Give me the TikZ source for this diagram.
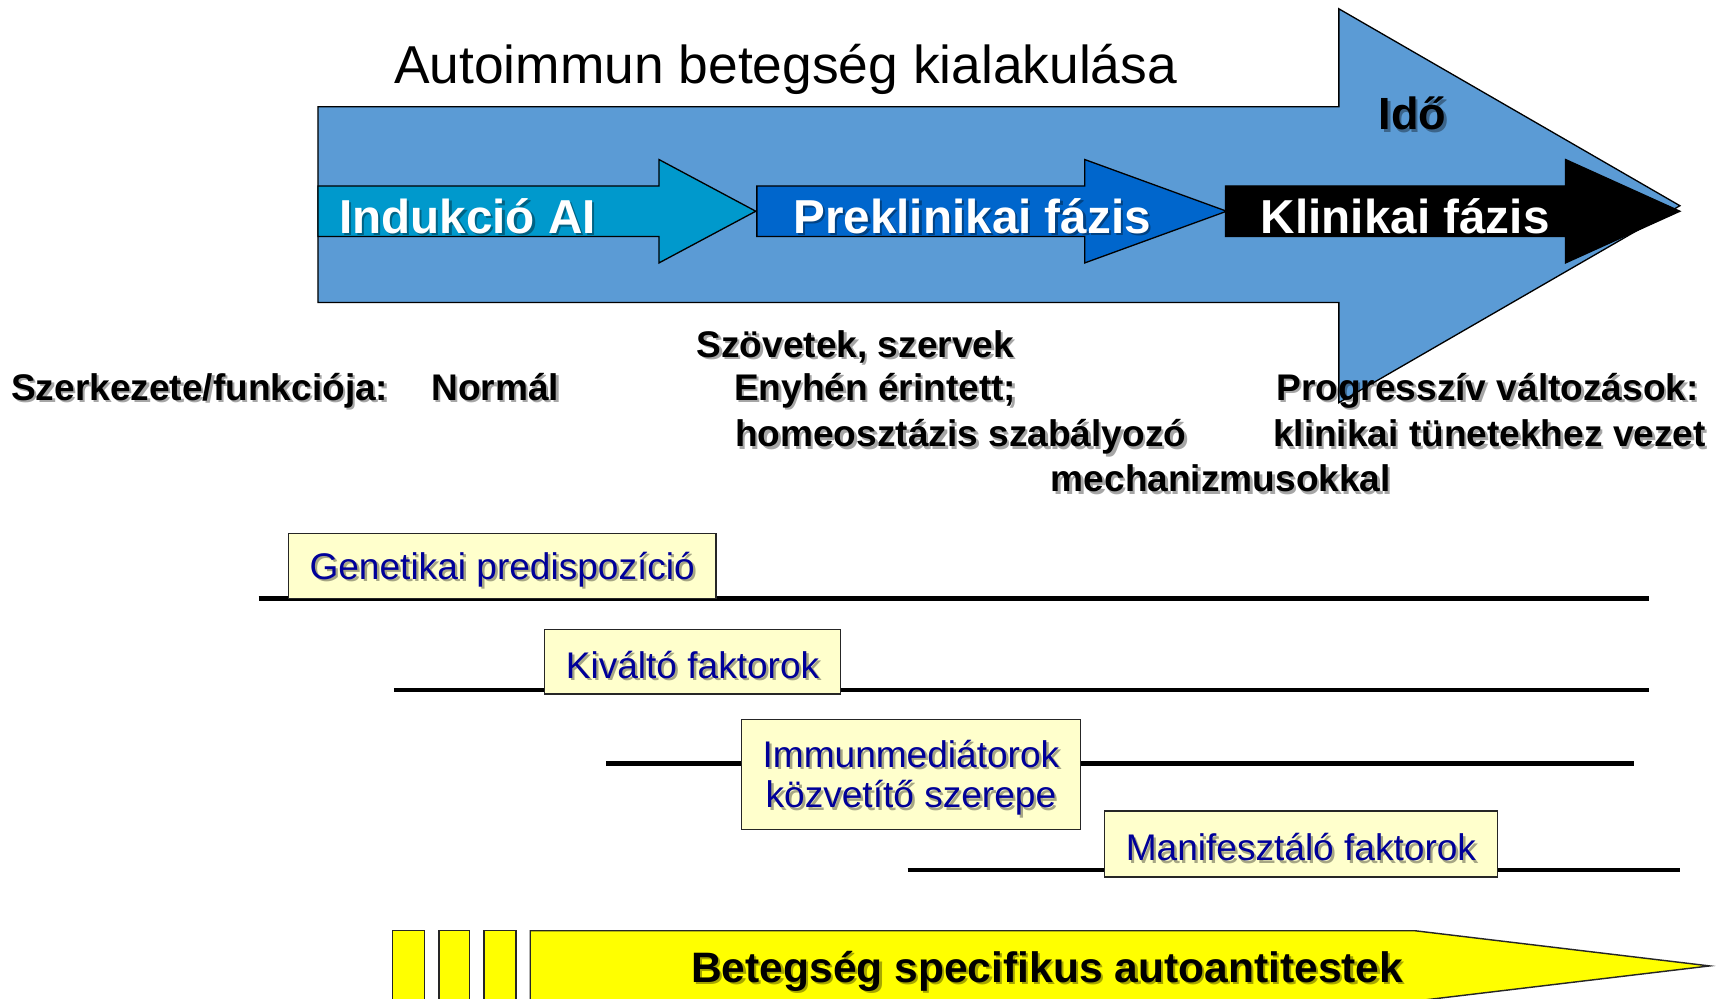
\documentclass[tikz,border=0pt]{standalone}
\usepackage{fontspec}
\setmainfont{Liberation Sans}
\definecolor{bigblue}{RGB}{91,155,213}
\definecolor{indblue}{RGB}{0,153,204}
\definecolor{preblue}{RGB}{0,102,204}
\definecolor{boxyellow}{RGB}{255,255,204}
\definecolor{navytxt}{RGB}{0,0,153}
\definecolor{brightyellow}{RGB}{255,255,0}
\newcommand\shnode[4]{%
  \node[#3, text=black, opacity=0.35, xshift=2.2pt, yshift=-2.2pt] (#1-sh) at (#2) {#4};
  \node[#3] (#1) at (#2) {#4};}
\begin{document}
\begin{tikzpicture}[x=1pt,y=-1pt,
  shape outline/.style={draw=black, line width=1.2pt, line join=miter},
  phase/.style={font=\bfseries\fontsize{43.3}{50}\selectfont, text=white, anchor=base west, inner sep=0pt},
  lbl/.style={font=\bfseries\fontsize{33.7}{40}\selectfont, text=black, anchor=base west, inner sep=0pt},
  boxtxt/.style={font=\fontsize{33.7}{37}\selectfont, text=navytxt, inner sep=0pt, align=center, yshift=-3pt},
  factorbox/.style={draw=black!85, fill=boxyellow, line width=1.3pt, inner sep=0pt},
  timeline/.style={draw=black, line width=4pt},
  ybar/.style={draw=black!85, fill=brightyellow, line width=1.3pt}]
\fill[white] (0,0) rectangle (1568,908);
\useasboundingbox (0,0) rectangle (1568,908);
\clip (0,0) rectangle (1568,908);

% title
\node[font=\fontsize{48.5}{58}\selectfont, anchor=base west, inner sep=0pt] (title) at (358,76) {Autoimmun betegség kialakulása};

% big arrow
\filldraw[shape outline, fill=bigblue] (289,97) -- (1217,97) -- (1217,8) -- (1527,187) -- (1217,366) -- (1217,275) -- (289,275) -- cycle;
\shnode{ido}{1253,118}{font=\bfseries\fontsize{41}{48}\selectfont, text=black, anchor=base west, inner sep=0pt}{Idő}

% phase arrows
\filldraw[shape outline, fill=indblue] (289,169) -- (599,169) -- (599,145) -- (687,192) -- (599,239) -- (599,215) -- (289,215) -- cycle;
\filldraw[shape outline, fill=preblue] (688,169) -- (986,169) -- (986,145) -- (1115,192) -- (986,239) -- (986,215) -- (688,215) -- cycle;
\filldraw[shape outline, fill=black] (1114,169) -- (1423,169) -- (1423,145) -- (1527,192) -- (1423,239) -- (1423,215) -- (1114,215) -- cycle;
\shnode{ind}{308,212}{phase}{Indukció AI}
\shnode{pre}{721,212}{phase}{Preklinikai fázis}
\shnode{kli}{1146,212}{phase}{Klinikai fázis}

% labels
\shnode{szerk}{10,364}{lbl}{Szerkezete/funkciója:}
\shnode{norm}{392,364}{lbl}{Normál}
\shnode{szov}{633,325}{lbl}{Szövetek, szervek}
\shnode{enyh}{667,364}{lbl}{Enyhén érintett;}
\shnode{homeo}{668,406}{lbl}{homeosztázis szabályozó}
\shnode{mech}{955,447}{lbl}{mechanizmusokkal}
\shnode{prog}{1160,364}{lbl}{Progresszív változások:}
\shnode{klin}{1157,406}{lbl}{klinikai tünetekhez vezet}

% timelines
\coordinate (l1a) at (235,544); \coordinate (l1b) at (1499,544);
\coordinate (l2a) at (358,627); \coordinate (l2b) at (1499,627);
\coordinate (l3a) at (551,694); \coordinate (l3b) at (1485,694);
\coordinate (l4a) at (825,791); \coordinate (l4b) at (1527,791);
\draw[timeline] (l1a) -- (l1b);
\draw[timeline] (l2a) -- (l2b);
\draw[timeline] (l3a) -- (l3b);
\draw[timeline] (l4a) -- (l4b);

% factor boxes
\node[factorbox, minimum width=389pt, minimum height=59pt] (gen) at (456.5,514.5) {};
\node[factorbox, minimum width=269pt, minimum height=59pt] (kiv) at (629.5,601.5) {};
\node[factorbox, minimum width=308pt, minimum height=100pt] (imm) at (828,704) {};
\node[factorbox, minimum width=357pt, minimum height=60pt] (man) at (1182.5,767) {};
\shnode{gent}{gen.center}{boxtxt}{Genetikai predispozíció}
\shnode{kivt}{kiv.center}{boxtxt}{Kiváltó faktorok}
\shnode{immt}{imm.center}{boxtxt}{Immunmediátorok\\közvetítő szerepe}
\shnode{mant}{man.center}{boxtxt}{Manifesztáló faktorok}

% autoantibody arrow
\filldraw[ybar] (357,846) rectangle (386,915);
\filldraw[ybar] (399,846) rectangle (427,915);
\filldraw[ybar] (440,846) rectangle (469,915);
\filldraw[ybar, line join=miter] (482,846) -- (1286,846) -- (1554,878) -- (1286,910) -- (482,910) -- cycle;
\shnode{auto}{628,893}{font=\bfseries\fontsize{38.7}{46}\selectfont, text=black, anchor=base west, inner sep=0pt}{Betegség specifikus autoantitestek}
\end{tikzpicture}
\end{document}
